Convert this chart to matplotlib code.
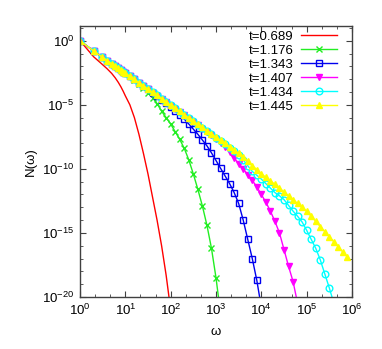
import numpy as np
import matplotlib
matplotlib.use('Agg')
import matplotlib.pyplot as plt
from matplotlib.ticker import FixedLocator, NullFormatter

plt.rcParams['font.family'] = ['Liberation Sans', 'DejaVu Sans']
plt.rcParams['axes.unicode_minus'] = False

# log10(omega) grid of the bins
log_omega = [0, 0.301, 0.477, 0.602, 0.699, 0.778, 0.845, 0.903, 0.954, 1.0,
             1.1, 1.2, 1.3, 1.4, 1.5, 1.6, 1.7, 1.8, 1.9, 2.0,
             2.1, 2.2, 2.3, 2.4, 2.5, 2.6, 2.7, 2.8, 2.9, 3.0,
             3.1, 3.2, 3.3, 3.4, 3.5, 3.6, 3.7, 3.8, 3.9, 4.0,
             4.1, 4.2, 4.3, 4.4, 4.5, 4.6, 4.7, 4.8, 4.9, 5.0,
             5.1, 5.2, 5.3, 5.4, 5.5, 5.6, 5.7, 5.8, 5.9]

# log10 N(omega) for each t
logN_0689 = [0, -1.25, -1.8, -2.2, -2.55, -2.9, -3.25, -3.6, -3.95, -4.3,
             -5.0, -6.0, -7.3, -8.8, -10.4, -12.2, -14.0, -16.0, -18.3, -21.0]
logN_1176 = [0, -0.8, -1.25, -1.55, -1.8, -2.0, -2.15, -2.3, -2.42, -2.52,
             -2.78, -3.05, -3.35, -3.7, -4.05, -4.45, -4.9, -5.5, -6.0, -6.5,
             -7.1, -7.7, -8.4, -9.3, -10.4, -11.6, -12.9, -14.4, -16.2, -18.5,
             -21.3]
logN_1343 = [0, -0.8, -1.25, -1.55, -1.8, -2.0, -2.15, -2.3, -2.42, -2.52,
             -2.77, -3.02, -3.28, -3.54, -3.8, -4.06, -4.32, -4.6, -4.87, -5.15,
             -5.45, -5.78, -6.12, -6.5, -6.9, -7.3, -7.75, -8.2, -8.75, -9.35,
             -9.95, -10.55, -11.15, -11.85, -12.7, -14.0, -15.5, -17.0, -18.7, -20.8]
logN_1407 = [0, -0.8, -1.25, -1.55, -1.8, -2.0, -2.15, -2.3, -2.42, -2.52,
             -2.77, -3.02, -3.27, -3.53, -3.78, -4.04, -4.29, -4.55, -4.8, -5.06,
             -5.31, -5.57, -5.82, -6.08, -6.33, -6.59, -6.85, -7.1, -7.37, -7.65,
             -7.95, -8.3, -8.7, -9.15, -9.6, -10.0, -10.45, -10.9, -11.4, -12.0,
             -12.6, -13.3, -14.1, -15.0, -16.3, -17.6, -18.8, -20.5]
logN_1434 = [0, -0.8, -1.25, -1.55, -1.8, -2.0, -2.15, -2.3, -2.42, -2.52,
             -2.77, -3.02, -3.27, -3.52, -3.77, -4.02, -4.27, -4.52, -4.77, -5.03,
             -5.28, -5.53, -5.78, -6.04, -6.29, -6.54, -6.8, -7.05, -7.3, -7.56,
             -7.82, -8.08, -8.34, -8.6, -8.9, -9.3, -9.75, -10.2, -10.5, -10.8,
             -11.15, -11.5, -11.85, -12.1, -12.4, -12.85, -13.3, -13.7, -14.15, -14.8,
             -15.5, -16.2, -17.1, -18.2, -19.3, -20.5]
logN_1445 = [0, -0.8, -1.25, -1.55, -1.8, -2.0, -2.15, -2.3, -2.42, -2.52,
             -2.77, -3.02, -3.27, -3.52, -3.77, -4.02, -4.27, -4.52, -4.77, -5.02,
             -5.27, -5.52, -5.77, -6.02, -6.27, -6.52, -6.77, -7.02, -7.27, -7.52,
             -7.77, -8.02, -8.27, -8.52, -8.8, -9.1, -9.4, -9.75, -10.05, -10.4,
             -10.65, -10.95, -11.2, -11.5, -11.8, -12.1, -12.4, -12.7, -13.0, -13.3,
             -13.7, -14.1, -14.5, -14.9, -15.3, -15.7, -16.1, -16.5, -16.9]

labels = ['t=0.689', 't=1.176', 't=1.343', 't=1.407', 't=1.434', 't=1.445']
series = [logN_0689, logN_1176, logN_1343, logN_1407, logN_1434, logN_1445]
colors = ['#ff0000', '#22ee22', '#0000ee', '#ff00ff', '#00ffff', '#ffff00']
markers = [None, 'x', 's', 'v', 'o', '^']
fills = ['full', 'full', 'none', 'full', 'none', 'full']

fig = plt.figure(figsize=(3.82, 3.49), dpi=100)
ax = fig.add_axes([0.2094, 0.149, 0.7121, 0.7765])

for lab, ys, c, m, f in zip(labels, series, colors, markers, fills):
    n = len(ys)
    x = 10 ** np.array(log_omega[:n])
    y = 10 ** np.array(ys, dtype=float)
    ax.plot(x, y, color=c, lw=1.0, marker=m, ms=4.8, fillstyle=f,
            mew=1.0, label=lab)

ax.set_xscale('log')
ax.set_yscale('log')
ax.set_xlim(1, 1e6)
ax.set_ylim(1e-20, 10 ** 1.15)

ax.xaxis.set_major_locator(FixedLocator([10.0 ** k for k in range(7)]))
ax.xaxis.set_minor_locator(FixedLocator(
    [10.0 ** (k + s) for k in range(6) for s in (1 / 3, 2 / 3)]))
ax.yaxis.set_major_locator(FixedLocator([10.0 ** k for k in (0, -5, -10, -15, -20)]))
ax.yaxis.set_minor_locator(FixedLocator([10.0 ** k for k in range(-20, 2)]))
ax.xaxis.set_minor_formatter(NullFormatter())
ax.yaxis.set_minor_formatter(NullFormatter())

ax.tick_params(which='both', direction='in', top=True, right=True,
               labelsize=9.5, color='#404040', pad=4)
ax.tick_params(which='major', length=4)
ax.tick_params(which='minor', length=2.5)
for sp in ax.spines.values():
    sp.set_color('#404040')
    sp.set_linewidth(1.0)

ax.set_xlabel('ω', fontsize=9.5, labelpad=6)
ax.set_ylabel('N(ω)', fontsize=9.5, labelpad=4)

ax.legend(loc='upper right', bbox_to_anchor=(0.945, 0.982), frameon=False,
          markerfirst=False, fontsize=9.5, handlelength=2.7, labelspacing=0.13,
          borderpad=0, handletextpad=0.6, borderaxespad=0)

fig.savefig('out.png', dpi=100)
